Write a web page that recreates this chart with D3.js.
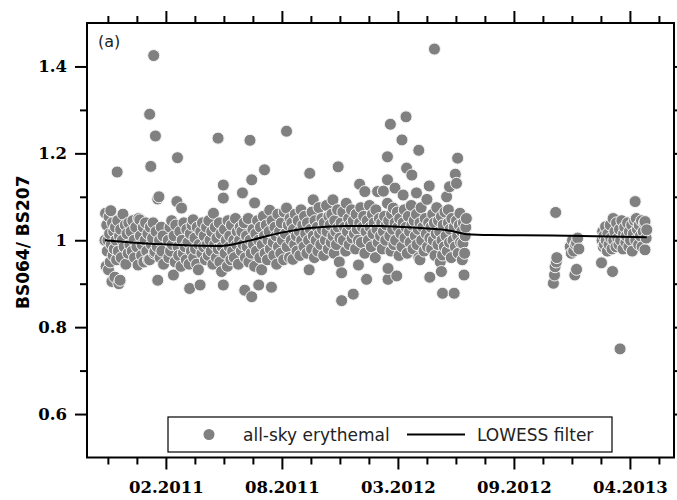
<!DOCTYPE html>
<html>
<head>
<meta charset="utf-8">
<script src="https://cdn.jsdelivr.net/npm/d3@7"></script>
<style>
  html, body { margin: 0; padding: 0; background: #fff; }
  svg { display: block; }
</style>
</head>
<body>
<svg id="chart" width="677" height="500"></svg>
<script>
// ---------------- DATA ----------------
// x: days relative to the "02.2011" tick; y: ratio BS064 / BS207
const erythemalObs = [
  [-105,1.00],[-104,1.062],[-103,0.94],[-102,1.035],[-101,0.975],[-100,1.0],[-99,0.932],[-98,1.054],[-97,1.015],[-96,0.95],[-95,1.068],[-94,0.99],[-93,0.905],[-92,1.04],[-91,0.965],[-90,1.02],[-89,0.98],[-88,0.915],[-87,1.03],[-86,1.0],[-85,0.955],[-84,1.157],[-83,1.045],[-82,0.975],[-81,0.90],[-80,1.01],[-79,0.908],[-78,1.025],[-77,0.96],[-75,1.0],[-74,1.06],[-72,0.985],[-70,1.035],[-69,0.945],[-67,1.015],[-65,0.97],[-64,1.04],[-62,0.99],
  [-60,1.02],[-58,0.975],[-57,1.045],[-55,1.0],[-54,0.96],[-52,1.03],[-50,0.985],[-48,0.943],[-47,1.05],[-45,1.047],[-44,1.01],[-42,0.965],[-41,0.99],[-39,1.03],[-38,0.95],[-36,1.0],[-35,1.04],[-33,0.975],[-31,1.015],[-30,0.955],[-28,1.29],[-28,0.955],[-27,1.03],[-26,1.17],[-25,0.99],[-23,1.005],[-22,1.04],[-21,1.425],[-20,0.97],[-19,0.974],[-18,1.24],[-17,1.02],[-15,0.985],[-14,1.095],[-14,0.908],[-12,1.10],[-11,1.0],[-10,0.96],[-8,1.03],[-7,0.975],[-5,1.01],[-4,0.945],
  [4,1.0],[5,0.96],[7,1.03],[8,0.975],[10,1.045],[11,0.99],[13,0.92],[14,1.01],[16,0.95],[17,1.035],[19,1.089],[20,1.19],[21,0.985],[22,0.965],[24,1.02],[26,0.94],[27,1.074],[28,1.0],[30,0.97],[31,1.04],[33,0.985],[35,0.955],[36,1.025],[38,0.995],[40,0.945],[41,0.889],[42,1.015],[44,0.975],[45,1.035],[47,1.047],[48,0.96],[50,1.005],[51,0.98],[53,0.945],[54,1.03],[56,0.932],[57,0.99],[59,0.897],[60,1.02],
  [62,0.97],[63,1.04],[65,0.985],[66,1.01],[68,0.955],[70,1.03],[71,0.99],[73,0.965],[74,1.045],[76,1.0],[78,0.975],[79,1.02],[81,0.945],[82,1.062],[84,0.99],[85,1.03],[87,0.96],[88,1.005],[90,1.235],[90,0.98],[92,1.04],[93,0.95],[95,1.015],[96,0.928],[97,0.985],[99,1.127],[99,1.097],[99,0.897],[101,1.025],[102,0.97],[104,1.0],[106,0.94],[107,1.045],[109,0.985],[110,1.01],[112,0.955],[113,1.035],[115,0.975],[117,1.0],[118,0.96],[120,1.05],[122,0.99],[123,1.02],[125,0.945],[127,1.0],[128,1.03],
  [130,0.975],[131,1.02],[132,1.109],[133,0.99],[135,1.04],[136,0.885],[137,0.96],[139,1.01],[140,0.985],[142,1.05],[143,0.95],[145,1.23],[145,1.0],[147,0.97],[148,1.139],[148,0.87],[150,1.025],[151,0.99],[153,1.086],[153,0.94],[155,1.015],[156,0.975],[158,1.045],[160,0.897],[160,1.0],[162,0.96],[163,1.03],[165,0.932],[166,0.99],[168,1.055],[170,1.162],[170,1.01],[171,0.97],[173,1.035],[175,0.955],[176,1.0],[178,1.02],[179,1.069],[180,0.98],[182,0.892],[183,1.045],[185,0.995],[186,0.965],[188,1.03],[190,1.01],[191,0.945],[193,1.06],[194,0.985],[196,1.02],[198,0.97],[199,1.04],[201,1.0],[203,0.955],[204,1.065],[206,1.015],[208,1.251],[208,1.074],[209,0.985],[211,1.035],[213,0.96],[214,1.05],
  [216,1.0],[217,1.04],[219,0.956],[220,1.025],[222,0.99],[223,1.06],[225,1.01],[226,0.975],[228,1.045],[230,1.02],[231,0.965],[233,1.07],[234,1.0],[236,1.035],[238,0.985],[239,1.055],[241,1.015],[243,0.97],[244,1.04],[246,1.0],[247,0.932],[248,1.154],[249,1.025],[251,0.98],[252,1.065],[254,1.093],[254,1.01],[256,0.96],[257,1.045],[259,1.0],[261,1.03],[262,0.975],[264,1.075],[265,1.015],[267,0.99],[269,1.05],[270,1.025],[272,0.965],[273,1.04],[275,1.0],[277,1.08],[278,1.02],[280,0.98],[281,1.055],[283,1.035],[285,0.995],[286,1.06],[288,1.093],[288,1.01],[290,0.97],[291,1.045],[293,1.02],[294,0.99],[296,1.07],[297,1.169],[297,1.03],[299,0.95],[300,1.005],
  [302,1.04],[303,0.861],[303,0.925],[305,1.065],[306,1.0],[308,1.03],[310,0.975],[311,1.085],[313,1.02],[315,1.05],[316,0.99],[318,1.035],[320,1.07],[321,1.005],[323,0.876],[323,1.045],[325,1.015],[327,0.98],[328,1.06],[330,1.025],[332,0.943],[332,1.0],[334,1.129],[334,1.04],[336,1.075],[337,0.995],[339,1.03],[341,1.055],[343,1.112],[343,0.97],[345,1.02],[346,0.91],[347,1.045],[349,1.0],[351,1.08],[352,1.03],[354,0.985],[356,1.06],[357,1.015],[359,1.04],[361,0.96],[362,1.07],[364,1.025],[365,1.112],[366,0.995],[368,1.05],[370,1.01],
  [372,1.04],[373,0.98],[375,1.113],[375,1.02],[377,1.055],[379,1.0],[380,1.035],[382,1.192],[382,1.139],[382,1.085],[383,0.91],[383,0.935],[384,1.045],[386,1.01],[387,1.267],[388,0.975],[389,1.06],[391,1.025],[392,1.074],[393,0.99],[395,1.12],[395,1.04],[396,1.0],[398,0.918],[399,1.065],[400,1.03],[402,0.965],[403,1.05],[405,1.015],[407,1.231],[407,0.985],[409,1.104],[409,1.04],[411,1.07],[412,1.005],[414,1.284],[414,1.03],[415,1.166],[416,0.97],[418,1.055],[420,1.02],[421,0.995],[423,1.08],[424,1.15],[424,1.035],[426,0.98],[428,1.045],[430,1.01],[432,1.109],[432,1.06],[433,0.99],[435,1.025],[436,1.207],[436,0.96],[438,0.955],[438,1.04],[440,1.075],[441,1.0],[443,1.03],[445,0.975],[447,1.05],[449,1.015],[450,1.094],[451,0.985],[453,1.04],[454,1.125],[455,0.915],[455,1.005],
  [457,1.03],[458,0.98],[460,1.06],[461,1.0],[463,1.44],[463,1.04],[464,0.965],[466,1.015],[467,1.075],[469,0.99],[470,1.045],[472,1.02],[473,0.95],[475,0.928],[475,1.055],[476,1.0],[477,0.878],[477,0.966],[478,1.035],[480,0.985],[481,1.065],[483,1.01],[484,1.1],[485,0.975],[487,1.07],[487,1.04],[489,1.123],[489,0.995],[490,1.025],[492,0.96],[493,1.05],[495,1.0],[497,0.878],[497,1.03],[499,1.152],[499,0.985],[501,1.131],[501,1.045],[503,1.189],[503,1.01],[504,0.97],[506,1.035],[507,1.062],[508,0.995],[510,1.02],[511,0.955],[512,0.993],[513,1.04],[514,0.92],[515,0.97],[516,1.01],[517,1.03],[518,1.05],
  [668,0.901],[670,0.92],[671,0.939],[672,1.064],[673,0.95],[674,0.96],
  [697,0.985],[699,0.97],[701,1.0],[703,0.975],[705,0.92],[706,0.99],[708,0.994],[708,0.933],[710,1.005],[712,0.98],
  [752,1.0],[753,1.02],[751,0.948],[754,0.985],[755,1.01],[756,0.99],[758,1.031],[759,1.0],[761,0.975],[762,1.015],[764,0.99],[766,1.035],[767,1.005],[769,0.98],[770,0.928],[771,1.05],[772,1.0],[774,1.02],[776,0.985],[777,1.04],[779,1.005],[781,0.99],[782,1.025],[783,0.75],[784,1.0],[786,1.045],[788,0.98],[789,1.015],[791,1.03],[793,0.995],[794,1.01],[796,1.04],[798,0.985],[799,1.02],[801,1.0],[803,1.035],[804,0.975],[806,1.015],[808,1.045],[809,1.089],[810,1.0],[811,1.05],[813,1.025],[815,0.99],[816,1.035],[818,1.01],[820,1.045],[821,0.985],[823,1.02],[825,1.04],[826,0.978],[826,1.043],[828,1.005],[829,1.024]
];

const lowessDay   = [-105, -60, 24, 93, 140, 197, 253, 312, 369, 438, 490, 519, 560, 667, 740, 829];
const lowessRatio = [1.0, 0.995, 0.989, 0.987, 0.998, 1.017, 1.029, 1.033, 1.033, 1.028, 1.022, 1.014, 1.012, 1.011, 1.009, 1.007];

const xDomain = [-136, 876];
const xMajorTicks = [0, 200, 400, 600, 800];
const xTickLabels = ["02.2011", "08.2011", "03.2012", "09.2012", "04.2013"];
const xMinorTicks = [-100, -50, 50, 100, 150, 250, 300, 350, 450, 500, 550, 650, 700, 750, 850];

const yDomain = [0.5, 1.5];
const yMajorTicks = [0.6, 0.8, 1.0, 1.2, 1.4];
const yTickLabels = ["0.6", "0.8", "1", "1.2", "1.4"];
const yMinorTicks = [0.7, 0.9, 1.1, 1.3];

const legendLabels = ["all-sky erythemal", "LOWESS filter"];
const yTitle = "BS064/ BS207";
const panelLabel = "(a)";

// ---------------- LAYOUT ----------------
const svg = d3.select("#chart");
const M = { left: 87, top: 23, right: 674, bottom: 457.5 };
const W = M.right - M.left, H = M.bottom - M.top;

const x = d3.scaleLinear().domain(xDomain).range([0, W]);
const y = d3.scaleLinear().domain(yDomain).range([H, 0]);

const g = svg.append("g").attr("transform", `translate(${M.left},${M.top})`);

const tickFont = "'DejaVu Serif', serif";
const sansFont = "'DejaVu Sans', sans-serif";

function styleAxis(sel, showText) {
  sel.select(".domain").remove();
  sel.selectAll(".tick line").attr("stroke", "#000").attr("stroke-width", 2);
  sel.selectAll(".tick text")
    .attr("fill", "#000")
    .style("font-family", tickFont)
    .style("font-weight", "bold")
    .style("font-size", "16.5px");
  if (!showText) sel.selectAll(".tick text").remove();
}

// bottom axis
g.append("g").attr("transform", `translate(0,${H})`)
  .call(d3.axisBottom(x).tickValues(xMajorTicks).tickSize(12).tickPadding(12)
    .tickFormat((d, i) => xTickLabels[i]))
  .call(s => styleAxis(s, true));
g.append("g").attr("transform", `translate(0,${H})`)
  .call(d3.axisBottom(x).tickValues(xMinorTicks).tickSize(7))
  .call(s => styleAxis(s, false));
// top axis
g.append("g")
  .call(d3.axisTop(x).tickValues(xMajorTicks).tickSize(12))
  .call(s => styleAxis(s, false));
g.append("g")
  .call(d3.axisTop(x).tickValues(xMinorTicks).tickSize(7))
  .call(s => styleAxis(s, false));
// left axis
g.append("g")
  .call(d3.axisLeft(y).tickValues(yMajorTicks).tickSize(12).tickPadding(8)
    .tickFormat((d, i) => yTickLabels[i]))
  .call(s => styleAxis(s, true));
g.append("g")
  .call(d3.axisLeft(y).tickValues(yMinorTicks).tickSize(7))
  .call(s => styleAxis(s, false));
// right axis
g.append("g").attr("transform", `translate(${W},0)`)
  .call(d3.axisRight(y).tickValues(yMajorTicks).tickSize(12))
  .call(s => styleAxis(s, false));
g.append("g").attr("transform", `translate(${W},0)`)
  .call(d3.axisRight(y).tickValues(yMinorTicks).tickSize(7))
  .call(s => styleAxis(s, false));

// scatter points
const clipId = "plotclip";
g.append("clipPath").attr("id", clipId).append("rect").attr("width", W).attr("height", H);
const pts = g.append("g").attr("clip-path", `url(#${clipId})`);
pts.selectAll("circle").data(erythemalObs).join("circle")
  .attr("cx", d => x(d[0]))
  .attr("cy", d => y(d[1]))
  .attr("r", 6)
  .attr("fill", "#808080")
  .attr("stroke", "#f4f4f4")
  .attr("stroke-width", 1);

// LOWESS line
const lowess = lowessDay.map((d, i) => [d, lowessRatio[i]]);
pts.append("path").datum(lowess)
  .attr("fill", "none").attr("stroke", "#000").attr("stroke-width", 2)
  .attr("d", d3.line().x(d => x(d[0])).y(d => y(d[1])).curve(d3.curveMonotoneX));

// frame
g.append("rect").attr("width", W).attr("height", H)
  .attr("fill", "none").attr("stroke", "#000").attr("stroke-width", 2);

// panel label
g.append("text").attr("x", 11).attr("y", 24)
  .style("font-family", sansFont).style("font-size", "16px").attr("fill", "#222")
  .text(panelLabel);

// y title
svg.append("text")
  .attr("transform", `translate(28.5,${M.top + H / 2 + 2}) rotate(-90)`)
  .attr("text-anchor", "middle")
  .style("font-family", sansFont).style("font-weight", "bold").style("font-size", "17px")
  .attr("fill", "#000")
  .text(yTitle);

// legend
const lg = svg.append("g");
lg.append("rect").attr("x", 168).attr("y", 417).attr("width", 444).attr("height", 35)
  .attr("fill", "#fff").attr("stroke", "#000").attr("stroke-width", 1.2);
lg.append("circle").attr("cx", 209).attr("cy", 434.5).attr("r", 5.5).attr("fill", "#808080");
lg.append("text").attr("x", 243).attr("y", 440.5)
  .style("font-family", sansFont).style("font-size", "17px").attr("fill", "#222")
  .text(legendLabels[0]);
lg.append("line").attr("x1", 407).attr("x2", 465).attr("y1", 434.5).attr("y2", 434.5)
  .attr("stroke", "#000").attr("stroke-width", 2);
lg.append("text").attr("x", 477).attr("y", 440.5)
  .style("font-family", sansFont).style("font-size", "17px").attr("fill", "#222")
  .text(legendLabels[1]);
</script>
</body>
</html>
